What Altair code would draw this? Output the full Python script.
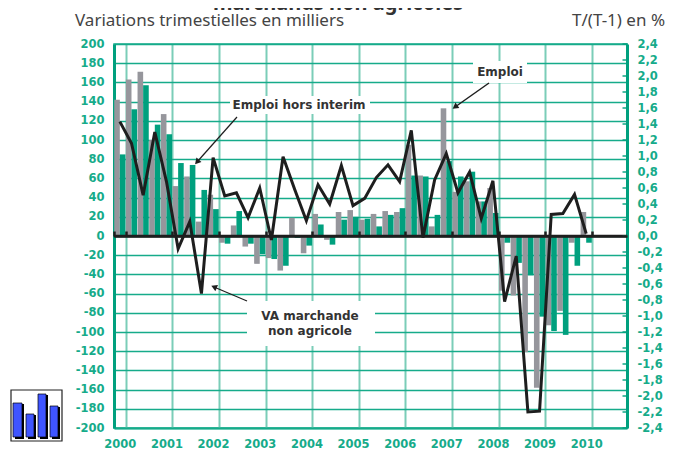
import altair as alt
import pandas as pd

years = list(range(2000, 2011))
quarters = [f"{y}-{q}" for y in years for q in (1, 2, 3, 4)]
year_starts = [f"{y}-1" for y in years]
observed = quarters[:41]

emploi = [142, 163, 171, 100, 127, 52, 62, 15, 43, -7, 11, -11, -29, -23, -36, 19, -18, 23, -4, 25,
          27, 17, 23, 26, 25, 95, 63, 10, 133, 46, 57, 36, 50, -57, -62, -121, -158, -93, -78, -7, 25]
hors_interim = [85, 132, 157, 116, 106, 76, 74, 48, 28, -8, 26, -8, -19, -24, -31, -2, -10, 12, -9, 17,
                20, 18, 10, 22, 29, 63, 62, 22, 78, 62, 67, 36, 24, -7, -28, -41, -84, -99, -103, -31, -7]
va = [1.43, 1.16, 0.51, 1.30, 0.68, -0.16, 0.18, -0.72, 0.98, 0.50, 0.54, 0.23, 0.60, -0.05, 0.99, 0.58,
      0.19, 0.64, 0.40, 0.88, 0.38, 0.47, 0.73, 0.89, 0.68, 1.32, -0.02, 0.70, 1.03, 0.54, 0.80, 0.22,
      0.69, -0.82, -0.25, -2.20, -2.19, 0.27, 0.28, 0.52, 0.03]
left_ticks = list(range(-200, 201, 20))
right_ticks = [round(-2.4 + 0.2 * i, 1) for i in range(25)]

TEAL = "#16AB8A"
TEAL_LIGHT = "#7BCDB8"
GREEN = "#00A07E"
GRAY = "#96969C"
DARK = "#1E1E1E"
TXT = "#333333"
FONT = "DejaVu Sans"
W, H = 513, 384

bars_df = pd.DataFrame({
    "q": observed * 2,
    "v": emploi + hors_interim,
    "s": ["a"] * 41 + ["b"] * 41,
})
line_df = pd.DataFrame({"q": observed, "v": va})
x_scale = alt.Scale(domain=quarters, type="band", paddingInner=0, paddingOuter=0)
y_left = alt.Scale(domain=[-200, 200], nice=False)
y_right = alt.Scale(domain=[-2.4, 2.4], nice=False)

bars = alt.Chart(bars_df).mark_bar().encode(
    x=alt.X("q:N", scale=x_scale, sort=quarters, title=None, axis=alt.Axis(
        values=year_starts, tickBand="extent", grid=True, gridColor=TEAL_LIGHT, gridWidth=2,
        labelExpr="slice(datum.label,0,4)", labelAngle=0, labelAlign="center", labelFont=FONT,
        labelFontWeight="bold", labelFontSize=11.5, labelColor=TEAL, labelPadding=10,
        ticks=False, domainColor=TEAL, domainWidth=2)),
    xOffset=alt.XOffset("s:N", scale=alt.Scale(paddingInner=0, paddingOuter=0.04)),
    y=alt.Y("v:Q", scale=y_left, title=None, axis=alt.Axis(
        values=left_ticks, grid=True, gridColor=TEAL, gridWidth=1.5, labelFont=FONT,
        labelFontWeight="bold", labelFontSize=11.5, labelColor=TEAL, labelPadding=10,
        labelExpr="toString(datum.value)", tickSize=0, domainColor=GREEN, domainWidth=3)),
    color=alt.Color("s:N", scale=alt.Scale(domain=["a", "b"], range=[GRAY, GREEN]), legend=None),
)

zero_axis = alt.Chart(line_df).mark_line(opacity=0).encode(
    x=alt.X("q:N", scale=x_scale, sort=quarters, title=None, axis=alt.Axis(
        values=year_starts, tickBand="extent", grid=False, labels=False, offset=-H / 2,
        domainColor=DARK, domainWidth=2.5, tickColor=DARK, tickWidth=2.5, tickSize=5, zindex=1)),
    y=alt.Y("v:Q", scale=y_right, title=None, axis=None),
)


def box(x0, y0, x1, y1):
    return alt.Chart().mark_rect(color="white").encode(
        x=alt.value(x0 - 114), x2=alt.value(x1 - 114), y=alt.value(y0 - 44), y2=alt.value(y1 - 44))


def arrow(x0, y0, x1, y1, angle, width=1.5):
    rule = alt.Chart().mark_rule(color=DARK, strokeWidth=width).encode(
        x=alt.value(x0 - 114), x2=alt.value(x1 - 114), y=alt.value(y0 - 44), y2=alt.value(y1 - 44))
    head = alt.Chart().mark_point(shape="triangle-up", filled=True, color=DARK, opacity=1, size=45, angle=angle).encode(
        x=alt.value(x1 - 114), y=alt.value(y1 - 44))
    return rule + head


def label(txt, x, y, size=12, align="center", font=FONT, weight="bold", color=TXT):
    return alt.Chart().mark_text(font=font, fontSize=size, fontWeight=weight, color=color, align=align, baseline="middle").encode(
        x=alt.value(x - 114), y=alt.value(y - 44), text=alt.value(txt))


line = alt.Chart(line_df).mark_line(color=DARK, strokeWidth=3, strokeJoin="miter").encode(
    x=alt.X("q:N", scale=x_scale, sort=quarters, title=None, axis=None),
    y=alt.Y("v:Q", scale=y_right, title=None, axis=alt.Axis(
        orient="right", values=right_ticks, grid=False, labelFont=FONT, labelFontWeight="bold",
        labelFontSize=11.5, labelColor=TEAL, labelPadding=10, tickSize=0, domainColor=GREEN, domainWidth=3,
        labelExpr="replace(replace(format(datum.value,'.1f'),'.',','),'\u2212','-')")),
)

right_marks = alt.Chart(pd.DataFrame({"t": right_ticks})).mark_tick(color=GREEN, thickness=2, size=5).encode(
    x=alt.value(W - 2), y=alt.Y("t:Q", scale=y_right, axis=None))
zero_rule = alt.Chart(pd.DataFrame({"z": [0]})).mark_rule(color=DARK, strokeWidth=2.5).encode(
    y=alt.Y("z:Q", scale=y_left, axis=None))

logo = [alt.Chart().mark_rect(color="white", stroke="#222222", strokeWidth=1.2).encode(
    x=alt.value(11 - 114), x2=alt.value(62 - 114), y=alt.value(390 - 44), y2=alt.value(441 - 44))]
for a, b, top in [(13, 22, 403), (26, 34, 414), (38, 46, 394), (50, 58, 406)]:
    logo.append(alt.Chart().mark_rect(color="#000000").encode(
        x=alt.value(a + 2 - 114), x2=alt.value(b + 2 - 114), y=alt.value(top + 1 - 44), y2=alt.value(439 - 44)))
    logo.append(alt.Chart().mark_rect(color="#3F55FF", stroke="#000000", strokeWidth=0.7).encode(
        x=alt.value(a - 114), x2=alt.value(b - 114), y=alt.value(top - 44), y2=alt.value(437 - 44)))

chart = alt.layer(
    bars,
    zero_axis,
    box(230, 96, 370, 114),
    box(473, 61, 527, 83),
    box(247, 301, 375, 346),
    zero_rule,
    right_marks,
    line,
    arrow(237, 117, 197, 162, 221.6, 1.2),
    arrow(489, 83, 455, 107, 234.8),
    arrow(247, 301, 214, 287, 293, 1.2),
    label("Emploi hors interim", 299, 105),
    label("Emploi", 500, 72),
    label("VA marchande", 310, 316),
    label("non agricole", 310, 331),
    label("Variations trimestielles en milliers", 75, 21, size=17, align="left", font="Noto Sans", weight="normal", color="#444444"),
    label("T/(T-1) en %", 572, 21, size=17, align="left", font="Noto Sans", weight="normal", color="#444444"),
    label("marchands non agricoles", 338, 4, size=20, font="Noto Sans"),
    *logo,
).resolve_scale(y="independent").resolve_axis(x="independent", y="independent").properties(
    width=W, height=H,
    autosize=alt.AutoSizeParams(type="none"),
    padding={"left": 106, "top": 36, "right": 40, "bottom": 22},
    background="white",
).configure_view(stroke=TEAL, strokeWidth=1.5)

chart.save("out.html", embed_options={"renderer": "svg", "actions": False})
